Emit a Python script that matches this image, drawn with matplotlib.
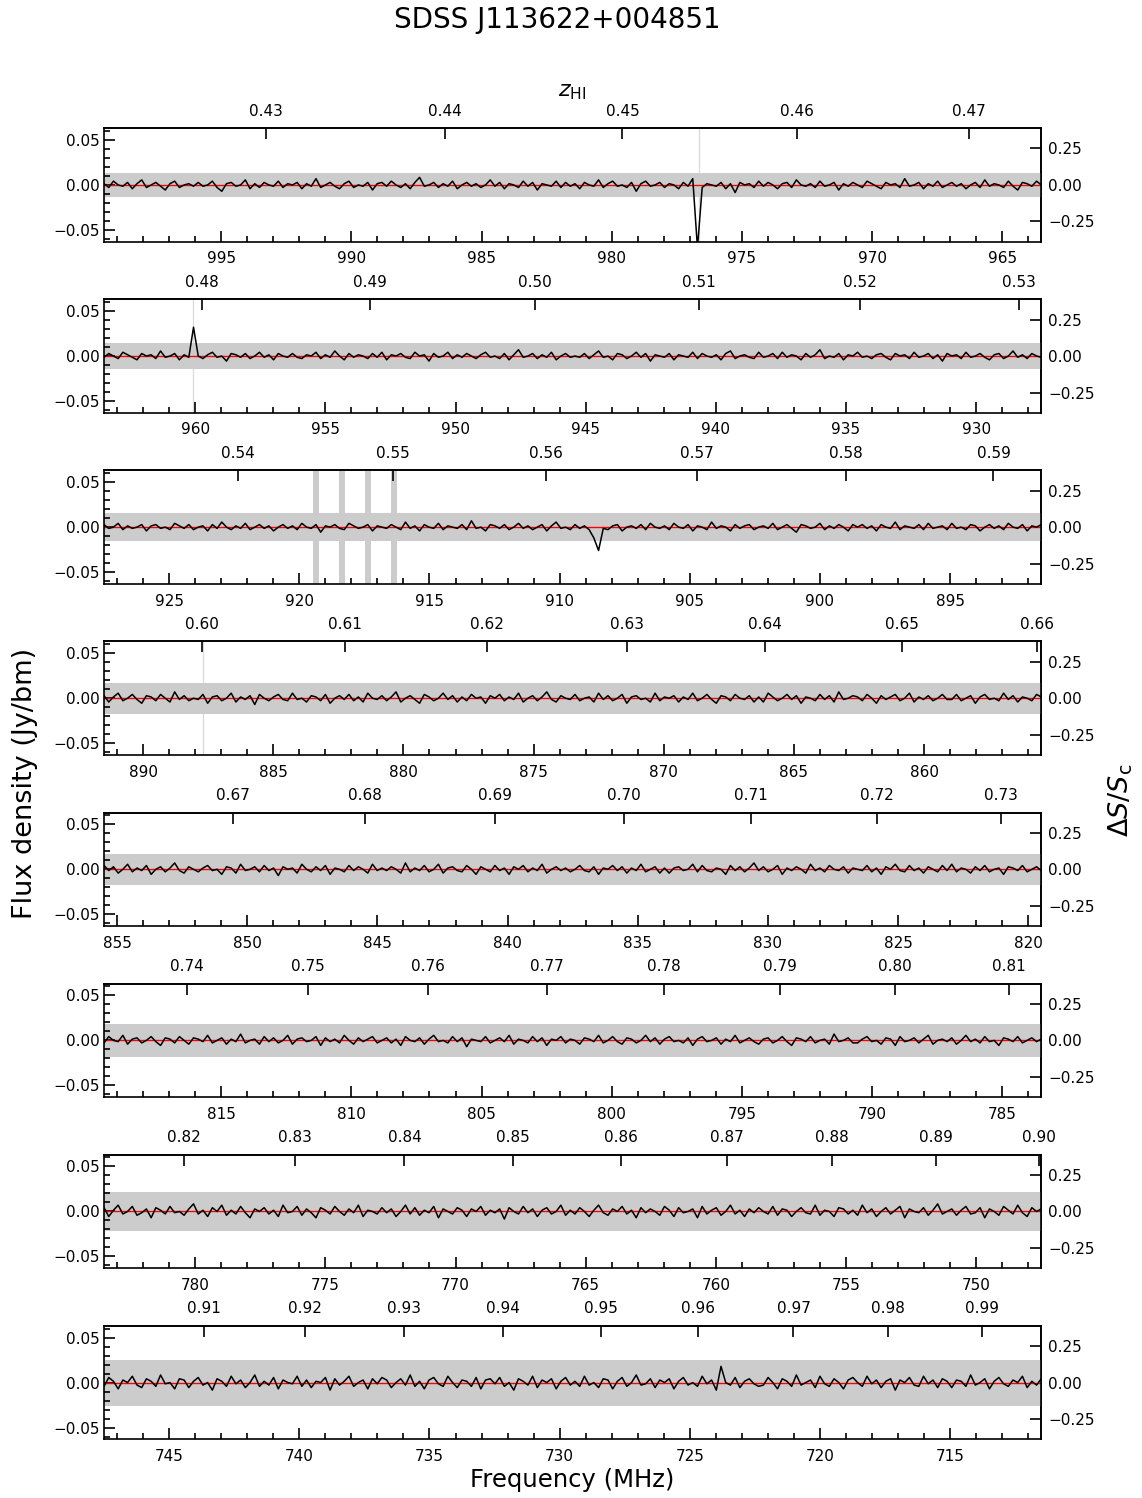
import numpy as np
import matplotlib.pyplot as plt
from matplotlib.ticker import MultipleLocator

# =====================================================
# DATA
# =====================================================
HI_REST = 1420.405751   # MHz
S_CONT = 0.1623         # Jy, continuum flux used for the right axis
NOISE_UNIT = 1.4e-3     # Jy per unit in the residual lists below

panel_edges = [999.5, 963.5, 927.5, 891.5, 855.5, 819.5, 783.5, 747.5, 711.5]
band_half = [0.0135, 0.014, 0.0152, 0.017, 0.017, 0.0185, 0.0215, 0.0255]  # Jy

# residual spectrum per panel (units of NOISE_UNIT)
noise_p1 = [1,-2,3,0,-1,2,-3,1,4,-2,0,2,-1,-4,1,3,-2,0,1,-1,
            2,-1,0,3,-2,-5,1,2,-1,0,4,-3,1,-2,2,0,-1,3,-2,1,
            0,2,-3,1,-1,5,-2,0,2,-1,-3,1,3,-2,0,-1,2,-4,1,2,
            -1,3,0,-2,1,-3,2,6,-1,0,2,-2,1,-1,3,-3,0,2,-1,1,
            -2,0,4,-1,2,-3,1,0,-2,3,-1,2,-4,1,0,-1,3,-2,2,-1,
            1,-3,2,0,-1,4,-2,1,3,-1,0,-2,2,-5,1,3,-1,0,2,-2,
            1,0,-3,2,-1,3,5,-2,1,0,-1,2,-3,1,-6,2,0,1,-2,3,
            -1,2,0,-3,1,2,-2,4,0,-1,1,-2,3,-1,0,2,-4,1,-1,2,
            0,-2,3,1,-1,-3,2,0,1,-2,5,-1,0,2,-3,1,-1,3,-2,0,
            2,-1,1,-3,0,2,-2,4,-1,1,0,-2,3,-1,-4,2,1,-1,3,0]
noise_p2 = [-1,2,0,-2,3,1,-1,-3,2,0,1,-2,4,-1,0,2,-3,1,-1,3,
            0,-2,1,3,-1,0,-4,2,1,-1,2,-2,0,3,-1,1,-3,2,0,-1,
            2,-1,-2,1,0,3,-2,1,-1,4,0,-3,2,-1,1,0,-2,2,-1,3,
            -3,1,0,2,-1,-2,3,0,1,-4,2,-1,0,3,-2,1,-1,2,0,-2,
            1,3,-1,0,-2,2,-3,1,5,-1,0,2,-2,1,-1,3,-3,0,2,-1,
            0,-1,2,-2,1,4,-1,0,-3,2,1,-2,0,3,-1,2,-4,1,0,-1,
            2,-3,1,0,-1,3,-2,2,0,-1,1,-3,2,4,-2,0,1,-1,-2,3,
            -1,0,2,-2,3,-1,1,0,-3,2,-1,1,5,-2,0,-1,2,-3,1,0,
            3,-1,0,-2,1,2,-1,-3,2,0,1,-2,3,-1,0,2,-2,1,-4,2,
            0,1,-2,3,-1,0,2,-1,-3,1,2,-2,0,4,-1,1,-2,2,0,-1]
noise_p3 = [2,-1,0,3,-2,1,-1,0,2,-3,1,2,-1,0,-2,3,1,-1,2,-2,
            0,1,-3,2,-1,4,0,-2,1,-1,3,-2,0,2,-1,1,-3,0,2,-1,
            1,-2,3,0,-1,2,-4,1,0,2,-1,-2,3,1,-1,0,2,-3,1,0,
            -1,2,0,-2,4,-1,1,-3,2,0,-1,3,-2,1,0,-1,2,-2,5,-1,
            0,-3,2,1,-1,2,-2,0,3,-1,1,-2,0,2,-3,1,4,-1,0,-2,
            2,-1,1,-2,0,3,-1,-2,1,2,-3,0,1,-1,2,-2,3,0,-1,1,
            -2,3,0,-1,2,-3,1,0,-2,4,-1,1,0,-3,2,-1,1,2,-2,0,
            1,-1,3,-2,0,2,-1,-4,2,1,-1,0,3,-2,1,-1,2,0,-3,2,
            0,2,-1,1,-3,2,0,-1,4,-2,1,0,-1,2,-2,3,-1,0,1,-2,
            3,-1,0,-2,2,1,-3,0,2,-1,1,-2,3,0,-1,2,-3,1,0,2]
noise_p4 = [2,-3,1,4,-2,0,3,-1,-4,2,1,-2,3,0,-3,5,-1,2,-2,0,
            -1,3,-4,1,2,-2,0,4,-3,1,-1,2,-5,3,0,-2,1,3,-1,-2,
            4,-1,0,-3,2,1,-2,3,-4,0,2,-1,3,-2,1,-3,4,0,-1,2,
            -2,1,5,-3,0,2,-1,-4,3,1,-2,0,4,-1,2,-3,1,-2,3,0,
            1,-4,2,0,3,-2,1,-1,4,-3,0,2,-2,1,5,-1,-3,2,0,-1,
            3,-2,0,1,-3,4,-1,2,-2,0,3,-4,1,2,-1,0,-3,4,-2,1,
            0,2,-3,1,-1,4,-2,0,3,-1,-4,2,1,-2,3,0,-1,2,-3,1,
            -3,4,1,-2,0,3,-1,2,-4,1,0,-2,3,-1,2,-3,5,-1,0,2,
            1,-2,3,0,-4,2,-1,1,3,-2,0,4,-3,1,-1,2,-2,0,3,-1,
            -1,3,-2,0,2,-4,1,3,-1,0,-2,4,-1,2,-3,1,0,-2,3,1]
noise_p5 = [3,-1,2,-3,0,4,-2,1,-1,3,-4,0,2,-2,1,5,-1,-3,2,0,
            -2,1,3,-1,0,-4,2,1,-3,4,-1,0,2,-2,3,-1,1,-5,2,0,
            1,-3,4,0,-2,2,-1,3,-4,1,0,-2,3,-1,2,0,-3,4,-1,1,
            -1,2,0,-3,5,-2,1,-1,3,-2,0,4,-3,1,2,-1,-2,3,0,-4,
            2,0,-2,3,-1,1,-4,2,0,3,-2,1,-1,4,-3,0,2,-1,1,-2,
            0,3,-1,-2,2,-4,1,0,3,-1,2,-3,1,-1,4,-2,0,2,-3,1,
            -3,1,2,-1,0,4,-2,3,-1,-2,1,0,-4,3,-1,2,-2,1,5,-1,
            2,-2,0,3,-4,1,-1,2,0,-3,4,-1,1,-2,3,0,-1,2,-3,1,
            0,-1,3,-2,1,-4,2,0,4,-1,-2,3,-1,1,-3,2,0,-2,3,-1,
            4,-2,1,0,-3,2,-1,3,-2,0,1,-4,2,1,-1,3,-2,0,2,-1]
noise_p6 = [-2,3,0,-1,4,-3,1,2,-2,0,3,-1,-4,2,1,-2,3,0,-3,2,
            1,-1,4,-2,0,2,-3,1,-1,5,-2,0,1,-3,3,-1,2,-2,0,4,
            -3,1,2,-1,0,3,-4,2,-1,1,-2,4,0,-3,2,-1,1,3,-2,0,
            2,-2,1,-4,3,0,-1,2,-3,1,4,-1,0,-2,3,-1,2,-5,1,0,
            -1,3,-2,0,2,-1,4,-3,1,0,-2,3,-1,2,-4,1,0,3,-2,1,
            0,-3,2,1,-1,4,-2,0,3,-1,-3,2,1,-2,0,4,-1,2,-3,1,
            3,-1,0,-2,2,-4,1,3,-1,0,2,-3,1,-1,4,-2,0,2,-1,-3,
            1,2,-2,0,3,-1,-4,2,1,-1,3,-2,0,1,-3,5,-1,0,2,-2,
            -2,1,3,-1,0,-3,2,1,-4,3,-1,0,2,-2,1,4,-3,0,1,-1,
            2,-3,0,4,-1,1,-2,3,-1,0,-4,2,1,-1,3,-2,0,2,-1,1]
noise_p7 = [3,-4,1,5,-2,0,4,-3,-1,2,-5,3,1,-2,4,-1,0,-3,2,6,
            -2,1,-4,3,0,5,-3,1,-2,4,-1,-5,2,0,3,-2,1,-4,5,-1,
            0,4,-3,2,-1,-5,3,1,-2,4,0,-3,2,-1,5,-4,1,0,-2,3,
            -1,2,-4,0,5,-2,3,-3,1,-1,4,-5,2,0,-2,3,1,-4,2,0,
            4,-3,1,-1,2,-6,3,0,-2,4,-1,2,-4,1,3,-2,0,5,-3,1,
            -2,3,0,-4,1,5,-1,-3,2,0,4,-2,1,-5,3,-1,2,0,-3,4,
            1,-4,3,-1,0,2,-5,4,-2,1,3,-3,0,5,-2,1,-4,2,-1,3,
            0,-2,4,-3,2,1,-4,0,3,-1,-2,5,-3,1,0,-4,3,2,-2,1,
            -3,5,-1,2,-4,0,3,-2,1,4,-5,2,0,-1,3,-3,1,6,-2,0,
            2,-3,1,4,-2,-1,3,-5,2,0,-3,4,1,-2,5,-1,-4,3,0,2]
noise_p8 = [-3,4,1,-5,2,0,5,-2,-4,3,1,-3,6,-1,0,-5,3,2,-4,1,
            4,-2,0,-6,3,1,-3,5,-1,2,-4,0,6,-3,1,-2,4,-5,2,0,
            -1,5,-3,2,-4,1,0,4,-6,3,-2,1,5,-3,0,2,-5,3,-1,4,
            2,-4,0,3,-2,6,-3,1,-5,2,4,-1,-3,5,0,-4,2,1,-3,4,
            -5,2,3,-1,4,-3,0,-6,3,1,-2,5,-4,2,0,3,-5,1,4,-2,
            1,-3,5,-2,0,-4,3,2,-5,1,4,-3,0,6,-2,-1,3,-4,2,0,
            3,-5,1,4,-2,0,-3,5,-1,2,-6,3,0,-2,4,-4,1,3,-1,-3,
            -2,4,0,-5,3,1,-3,6,-2,0,2,-4,5,-1,-3,3,0,-5,2,4,
            0,-3,5,-1,2,-4,1,3,-6,2,0,4,-2,-3,5,-1,2,-4,3,1,
            -4,2,1,-3,6,-2,0,3,-5,1,4,-1,-3,2,0,5,-4,1,-2,3]
noise = [noise_p1, noise_p2, noise_p3, noise_p4,
         noise_p5, noise_p6, noise_p7, noise_p8]

# single-channel features (MHz, Jy)
line_freq = [976.85, 976.65, 960.08, 908.68, 908.50, 723.80]
line_flux = [0.007, -0.070, 0.032, -0.012, -0.026, 0.018]

# flagged channels: thin markers and RFI bands
flag_lines = [976.65, 960.08, 887.69]
flag_bands = [919.35, 918.35, 917.35, 916.35]


def f2z(f):
    return HI_REST / f - 1


def z2f(z):
    return HI_REST / (1 + z)


# =====================================================
# FIGURE
# =====================================================
fig, axes = plt.subplots(8, 1, figsize=(11.42, 14.98), dpi=100)
fig.subplots_adjust(left=0.0911, right=0.9118, top=0.9144, bottom=0.0392, hspace=0.508)

for i, ax in enumerate(axes):
    f_hi, f_lo = panel_edges[i], panel_edges[i + 1]
    freq = np.linspace(f_hi, f_lo, len(noise[i]))
    flux = np.array(noise[i]) * NOISE_UNIT
    for lf, lv in zip(line_freq, line_flux):
        if f_lo < lf < f_hi:
            flux[np.argmin(np.abs(freq - lf))] = lv
    model = np.zeros_like(freq)

    for lf in flag_lines:
        if f_lo < lf < f_hi:
            ax.axvline(lf, color='0.85', lw=0.9, zorder=0)
    for bf in flag_bands:
        if f_lo < bf < f_hi:
            ax.axvspan(bf - 0.11, bf + 0.11, color='0.8', lw=0, zorder=0)

    ax.fill_between(freq, -band_half[i], band_half[i], color='0.8', lw=0, zorder=1)
    ax.plot(freq, model, color='red', lw=1.0, zorder=2)
    ax.plot(freq, flux, color='black', lw=1.1, zorder=3)

    ax.set_xlim(f_hi, f_lo)
    ax.set_ylim(-0.063, 0.063)

    ax.xaxis.set_major_locator(MultipleLocator(5))
    ax.xaxis.set_minor_locator(MultipleLocator(1))
    ax.yaxis.set_major_locator(MultipleLocator(0.05))
    ax.yaxis.set_minor_locator(MultipleLocator(0.01))
    ax.tick_params(axis='both', which='both', direction='in', top=False, right=False,
                   labelsize=11)
    ax.tick_params(which='major', length=8, width=1.2)
    ax.tick_params(which='minor', length=4, width=1.2)
    ax.tick_params(axis='x', which='major', pad=7)
    ax.tick_params(axis='y', which='major', pad=3)
    for s in ax.spines.values():
        s.set_linewidth(1.2)

    top = ax.secondary_xaxis('top', functions=(f2z, z2f))
    top.xaxis.set_major_locator(MultipleLocator(0.01))
    top.tick_params(direction='in', length=8, width=1.2, pad=7, labelsize=11)
    if i == 0:
        top.set_xlabel(r'$z_{\rm HI}$', fontsize=16, labelpad=5)

    right = ax.secondary_yaxis('right', functions=(lambda y: y / S_CONT,
                                                   lambda r: r * S_CONT))
    right.yaxis.set_major_locator(MultipleLocator(0.25))
    right.tick_params(direction='in', length=8, width=1.2, pad=5, labelsize=11)
    for s in list(top.spines.values()) + list(right.spines.values()):
        s.set_linewidth(1.2)

axes[-1].set_xlabel('Frequency (MHz)', fontsize=17.5, labelpad=3)

fig.suptitle('SDSS J113622+004851', fontsize=20, x=0.488, y=0.9866, va='center')
fig.text(0.022, 0.4768, 'Flux density (Jy/bm)', rotation=90, fontsize=19.5,
         ha='center', va='center')
fig.text(0.981, 0.466, r'$\Delta S/S_{\rm c}$', rotation=90, fontsize=19.5,
         ha='center', va='center')

fig.savefig('out.png', dpi=100)
